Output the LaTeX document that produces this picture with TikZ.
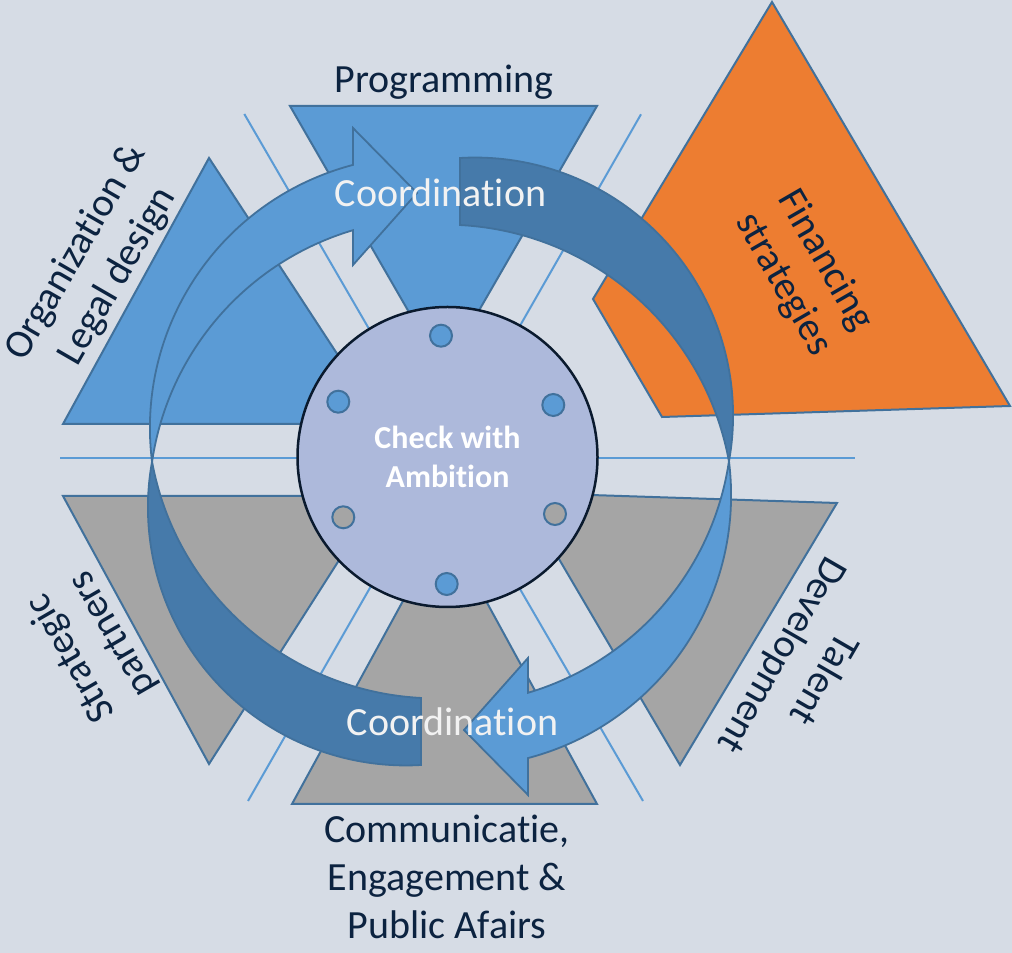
\documentclass[tikz,border=0pt]{standalone}
\usepackage{fontspec}
\setmainfont{Carlito}[Ligatures={NoCommon}]
\definecolor{bgc}{HTML}{D6DCE5}
\definecolor{blu}{HTML}{5B9BD5}
\definecolor{stl}{HTML}{41719C}
\definecolor{drk}{HTML}{467AAA}
\definecolor{gry}{HTML}{A5A5A5}
\definecolor{orng}{HTML}{ED7D31}
\definecolor{hubc}{HTML}{ADB9DB}
\definecolor{ink}{HTML}{0C2340}
\definecolor{hubline}{HTML}{0A1A2E}
\definecolor{wht}{HTML}{F2F2F2}
\begin{document}
\begin{tikzpicture}[x=1pt,y=1pt,
  guide/.style={draw=blu, line width=2pt},
  tri/.style={draw=stl, line width=2pt, line join=miter},
  cres/.style={draw=stl, line width=1.8pt, line join=miter},
  dotn/.style={circle, draw=stl, line width=2pt, minimum size=22pt, inner sep=0pt},
  lbl/.style={text=ink, font=\fontsize{40}{48}\selectfont, align=center, inner sep=0pt},
  coordlbl/.style={text=wht, font=\fontsize{40}{48}\selectfont, inner sep=0pt, anchor=base},
]
\useasboundingbox (0,0) rectangle (1012,953);
\fill[bgc] (0,0) rectangle (1012,953);

% guide lines
\draw[guide] (60,495) -- (855,495);
\draw[guide] (244.3,839) -- (643,152);
\draw[guide] (641,838.7) -- (248,152);

% triangles
\filldraw[tri, fill=blu] (290,847) -- (597,847) -- (443.5,581) -- cycle;
\filldraw[tri, fill=blu] (209,795) -- (63,529) -- (383,529) -- cycle;
\filldraw[tri, fill=gry] (63,457) -- (380,457) -- (209,189) -- cycle;
\filldraw[tri, fill=gry] (292,149) -- (597,149) -- (444.5,428) -- cycle;
\filldraw[tri, fill=gry] (837,450) -- (520,460.3) -- (680,188) -- cycle;
\filldraw[tri, fill=orng] (772,951) -- (1010,547) -- (662,536) -- (593,654) -- cycle;

% circular arrows (top half)
\filldraw[cres, fill=blu] (152,491.5) arc[start angle=187.07, end angle=104.7, radius=272pt]
  -- (353,825) -- (417,760) -- (353,688) -- (353,722.8)
  arc[start angle=106.51, end angle=171.55, radius=285pt] -- cycle;
\filldraw[cres, fill=drk] (460,795) arc[start angle=93.35, end angle=-10.25, radius=258pt]
  arc[start angle=10.39, end angle=86.99, radius=288.9pt] -- cycle;
% bottom half (rotated copy)
\begin{scope}[rotate around={180:(440.5,491.5)}]
\filldraw[cres, fill=blu] (152,491.5) arc[start angle=187.07, end angle=104.7, radius=272pt]
  -- (353,825) -- (417,760) -- (353,688) -- (353,722.8)
  arc[start angle=106.51, end angle=171.55, radius=285pt] -- cycle;
\filldraw[cres, fill=drk] (460,795) arc[start angle=93.35, end angle=-10.25, radius=258pt]
  arc[start angle=10.39, end angle=86.99, radius=288.9pt] -- cycle;
\end{scope}

% hub
\node[circle, draw=hubline, line width=2.5pt, fill=hubc, minimum size=300pt, inner sep=0pt,
  text=white, font=\bfseries\fontsize{32}{39}\selectfont, align=center] (hub) at (447.5,496) {Check with\\Ambition};

% dots
\node[dotn, fill=blu] (d1) at (441,617.3) {};
\node[dotn, fill=blu] (d2) at (338.3,551.3) {};
\node[dotn, fill=blu] (d3) at (553.3,548) {};
\node[dotn, fill=gry] (d4) at (343.3,435.7) {};
\node[dotn, fill=gry] (d5) at (555,439) {};
\node[dotn, fill=blu] (d6) at (446.7,369) {};

% labels
\node[lbl, anchor=base] (prog) at (444,860) {Programming};
\node[lbl, rotate=60] (orgl) at (97,688.5) {Organization \&\\Legal design};
\node[lbl, rotate=-60] (fin) at (804,680.5) {Financing\\strategies};
\node[lbl, rotate=120] (strat) at (92,307) {Strategic\\partners};
\node[lbl, rotate=-120] (tal) at (802,286.5) {Talent\\Development};
\node[lbl] (comm) at (447,76.5) {Communicatie,\\Engagement \&\\Public Afairs};

\node[coordlbl] (co1) at (440.5,746) {Coordination};
\node[coordlbl] (co2) at (452.5,217) {Coordination};
\end{tikzpicture}
\end{document}
